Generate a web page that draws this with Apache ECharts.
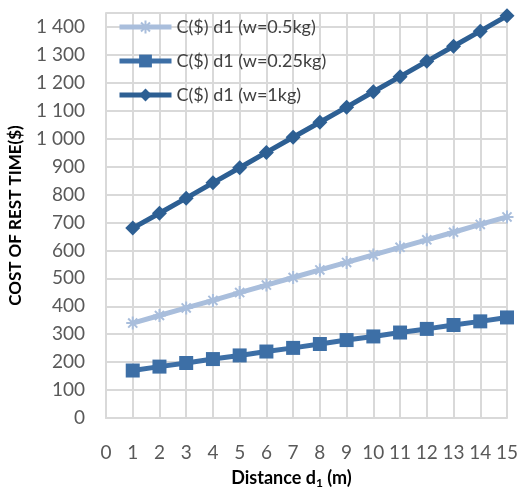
<!DOCTYPE html>
<html>
<head>
<meta charset="utf-8">
<script src="https://cdn.jsdelivr.net/npm/echarts@6/dist/echarts.min.js"></script>
<style>
  html, body { margin: 0; padding: 0; background: #fff; }
  #chart { width: 522px; height: 489px; }
</style>
</head>
<body>
<div id="chart"></div>
<script>
// distance d1 (m)
const distance = [1, 2, 3, 4, 5, 6, 7, 8, 9, 10, 11, 12, 13, 14, 15]
// cost of rest time ($)
const cost_w05 = [340, 367, 394, 421, 449, 476, 503, 530, 557, 584, 611, 638, 665, 693, 720]
const cost_w025 = [170, 184, 197, 211, 224, 238, 251, 265, 279, 292, 306, 319, 333, 346, 360]
const cost_w1 = [680, 733, 787, 842, 896, 951, 1005, 1059, 1113, 1168, 1222, 1277, 1331, 1385, 1440]
const series_names = ['C($) d1 (w=0.5kg)', 'C($) d1 (w=0.25kg)', 'C($) d1 (w=1kg)']

const FONT = 'Lato'
const asterisk = 'path://M0,5L10,5M5,0L5,10M1.5,1.5L8.5,8.5M8.5,1.5L1.5,8.5'

function pairs (vals) {
    return distance.map((d, i) => [d, vals[i]])
}

const myChart = echarts.init(document.getElementById('chart'))

const option = {
    animation: false,
    backgroundColor: '#fff',
    textStyle: { fontFamily: FONT },
    grid: { left: 106, right: 15, top: 13, bottom: 71, containLabel: false, outerBoundsMode: 'none' },
    legend: {
        orient: 'vertical',
        left: 112,
        top: 13,
        itemGap: 16,
        itemWidth: 52,
        itemHeight: 16,
        lineStyle: { width: 5 },
        textStyle: { fontFamily: FONT, fontSize: 18, color: '#404040' },
        data: series_names
    },
    xAxis: {
        type: 'value',
        min: 0,
        max: 15,
        interval: 1,
        axisLine: { show: true, lineStyle: { color: '#d9d9d9', width: 2 } },
        axisTick: { show: false },
        splitLine: { show: true, lineStyle: { color: '#d9d9d9', width: 2 } },
        axisLabel: { fontFamily: FONT, fontSize: 19, color: '#595959', margin: 25 },
        name: '{b|Distance d}{s|1}{b| (m)}',
        nameLocation: 'middle',
        nameGap: 50,
        nameTextStyle: {
            padding: [0, 30, 0, 0],
            rich: {
                b: { fontFamily: FONT, fontSize: 18, fontWeight: 'bold', color: '#000' },
                s: { fontFamily: FONT, fontSize: 12, fontWeight: 'bold', color: '#000', verticalAlign: 'bottom', padding: [9, 0, 0, 0] }
            }
        }
    },
    yAxis: {
        type: 'value',
        min: 0,
        max: 1450,
        interval: 100,
        axisLine: { show: true, lineStyle: { color: '#d9d9d9', width: 2 } },
        axisTick: { show: false },
        splitLine: { show: true, lineStyle: { color: '#d9d9d9', width: 2 } },
        axisLabel: {
            fontFamily: FONT,
            fontSize: 19,
            color: '#595959',
            margin: 21,
            showMaxLabel: false,
            formatter: function (v) {
                if (v > 1400) return ''
                return String(v).replace(/\B(?=(\d{3})+(?!\d))/g, ' ')
            }
        },
        name: 'COST OF REST TIME($)',
        nameLocation: 'middle',
        nameRotate: 90,
        nameGap: 82,
        nameTextStyle: { fontFamily: FONT, fontSize: 17, fontWeight: 'bold', color: '#000' }
    },
    series: [
        {
            name: series_names[0],
            type: 'line',
            data: pairs(cost_w05),
            symbol: asterisk,
            symbolSize: 13,
            lineStyle: { color: '#a9bedc', width: 5 },
            itemStyle: { color: '#a9bedc', borderColor: '#a9bedc', borderWidth: 2 }
        },
        {
            name: series_names[1],
            type: 'line',
            data: pairs(cost_w025),
            symbol: 'rect',
            symbolSize: 14,
            lineStyle: { color: '#3d6fa6', width: 5 },
            itemStyle: { color: '#3d6fa6' }
        },
        {
            name: series_names[2],
            type: 'line',
            data: pairs(cost_w1),
            symbol: 'diamond',
            symbolSize: 15,
            lineStyle: { color: '#2d5f93', width: 5 },
            itemStyle: { color: '#2d5f93' }
        }
    ]
}
option && myChart.setOption(option)
</script>
</body>
</html>
